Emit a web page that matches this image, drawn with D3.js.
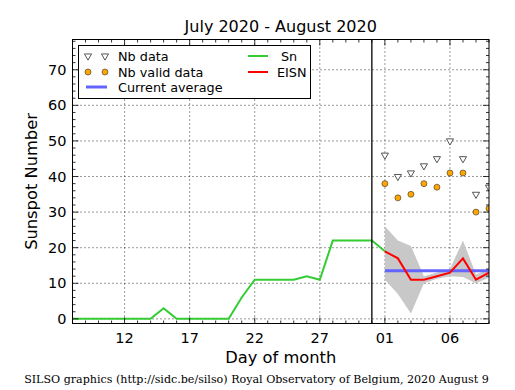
<!DOCTYPE html>
<html><head><meta charset="utf-8">
<script src="https://cdn.jsdelivr.net/npm/d3@7"></script>
<style>body{margin:0;background:#fff}svg{display:block}</style>
</head><body>
<svg id="c" width="515" height="390"></svg>
<script>
// ---- data ----
const snDays = [8,9,10,11,12,13,14,15,16,17,18,19,20,21,22,23,24,25,26,27,28,29,30,31,32];
const snValues = [0,0,0,0,0,0,0,3,0,0,0,0,0,6,11,11,11,11,12,11,22,22,22,22,19];
const augDays = [32,33,34,35,36,37,38,39,40];
const eisnValues = [19,17,11,11,12,13,17,11,13];
const eisnUpper = [26,22,20.5,12,13,14,22,12.5,14];
const eisnLower = [11,7,1.5,10,11.3,12,11.8,10,11.6];
const nbData = [46,40,41,43,45,50,45,35,37];
const nbValid = [38,34,35,38,37,41,41,30,31];
const currentAverage = 13.5;
const avgRange = [32,40];
const monthBoundary = 31;
const xTickValues = [12,17,22,27,32,37];
const xTickLabels = ["12","17","22","27","01","06"];
const yTickValues = [0,10,20,30,40,50,60,70];

const svg = d3.select("#c");
const L=72.5, R=489, T=39.5, B=323.5;
const x = d3.scaleLinear().domain([8,40]).range([L,R]);
const y = d3.scaleLinear().domain([-1.3,78.5]).range([B,T]);
const font = "DejaVu Sans, sans-serif";

svg.append("defs").append("clipPath").attr("id","clip")
  .append("rect").attr("x",L).attr("y",T).attr("width",R-L).attr("height",B-T);

// grid
const grid = svg.append("g");
xTickValues.forEach(v=>grid.append("line").attr("x1",x(v)).attr("x2",x(v)).attr("y1",T).attr("y2",B));
yTickValues.forEach(v=>grid.append("line").attr("x1",L).attr("x2",R).attr("y1",y(v)).attr("y2",y(v)));
grid.selectAll("line").attr("stroke","#000").attr("stroke-width",0.8).attr("stroke-dasharray","1,3");

const plot = svg.append("g").attr("clip-path","url(#clip)");
// band
const band = augDays.map((d,i)=>({d,u:eisnUpper[i],l:eisnLower[i]}));
plot.append("path").datum(band)
  .attr("d",d3.area().x(p=>x(p.d)).y0(p=>y(p.l)).y1(p=>y(p.u)))
  .attr("fill","#c8c8c8").attr("stroke","none");
// Sn
plot.append("path").datum(snDays.map((d,i)=>[d,snValues[i]]))
  .attr("d",d3.line().x(p=>x(p[0])).y(p=>y(p[1])))
  .attr("fill","none").attr("stroke","#33cc33").attr("stroke-width",2);
// current average
plot.append("line").attr("x1",x(avgRange[0])).attr("x2",x(avgRange[1]))
  .attr("y1",y(currentAverage)).attr("y2",y(currentAverage))
  .attr("stroke","#6464ff").attr("stroke-width",3);
// EISN
plot.append("path").datum(augDays.map((d,i)=>[d,eisnValues[i]]))
  .attr("d",d3.line().x(p=>x(p[0])).y(p=>y(p[1])))
  .attr("fill","none").attr("stroke","#ff0000").attr("stroke-width",2);
// markers
const tri = d3.symbol().type(d3.symbolTriangle).size(22);
augDays.forEach((d,i)=>{
  plot.append("path").attr("d",tri()).attr("transform",`translate(${x(d)},${y(nbData[i])}) rotate(180)`)
    .attr("fill","#fff").attr("stroke","#555").attr("stroke-width",1);
  plot.append("circle").attr("cx",x(d)).attr("cy",y(nbValid[i])).attr("r",3)
    .attr("fill","#ffa500").attr("stroke","#333").attr("stroke-width",0.6);
});
// month boundary
svg.append("line").attr("x1",x(monthBoundary)).attr("x2",x(monthBoundary)).attr("y1",T).attr("y2",B)
  .attr("stroke","#000").attr("stroke-width",1.3);

// ticks
const tk = svg.append("g").attr("stroke","#000").attr("stroke-width",0.8);
d3.range(8,41).forEach(v=>{
  const major = xTickValues.includes(v), len = major?6:3;
  tk.append("line").attr("x1",x(v)).attr("x2",x(v)).attr("y1",B).attr("y2",B-len);
  tk.append("line").attr("x1",x(v)).attr("x2",x(v)).attr("y1",T).attr("y2",T+len);
});
d3.range(0,79,2).forEach(v=>{
  const major = v%10===0, len = major?6:3;
  tk.append("line").attr("y1",y(v)).attr("y2",y(v)).attr("x1",L).attr("x2",L+len);
  tk.append("line").attr("y1",y(v)).attr("y2",y(v)).attr("x1",R).attr("x2",R-len);
});
// spines
svg.append("rect").attr("x",L).attr("y",T).attr("width",R-L).attr("height",B-T)
  .attr("fill","none").attr("stroke","#000").attr("stroke-width",1);

// tick labels
xTickValues.forEach((v,i)=>svg.append("text").attr("x",x(v)).attr("y",B+19).attr("text-anchor","middle")
  .attr("font-family",font).attr("font-size",14.5).text(xTickLabels[i]));
yTickValues.forEach(v=>svg.append("text").attr("x",L-6).attr("y",y(v)+5).attr("text-anchor","end")
  .attr("font-family",font).attr("font-size",14.5).text(v));

// titles
svg.append("text").attr("x",(L+R)/2).attr("y",32).attr("text-anchor","middle")
  .attr("font-family",font).attr("font-size",16).text("July 2020 - August 2020");
svg.append("text").attr("x",(L+R)/2).attr("y",363).attr("text-anchor","middle")
  .attr("font-family",font).attr("font-size",16.3).text("Day of month");
svg.append("text").attr("transform",`translate(37,${(T+B)/2}) rotate(-90)`).attr("text-anchor","middle")
  .attr("font-family",font).attr("font-size",16.3).text("Sunspot Number");
svg.append("text").attr("x",256.5).attr("y",383).attr("text-anchor","middle")
  .attr("font-family","DejaVu Serif, serif").attr("font-size",11.1)
  .text("SILSO graphics (http://sidc.be/silso) Royal Observatory of Belgium, 2020 August 9");

// legend
const lg = svg.append("g");
lg.append("rect").attr("x",78.5).attr("y",45.5).attr("width",232).attr("height",53)
  .attr("fill","#fff").attr("stroke","#000").attr("stroke-width",1);
const lf = 12.8;
[88,105].forEach(px=>{
  lg.append("path").attr("d",tri()).attr("transform",`translate(${px},56) rotate(180)`)
    .attr("fill","#fff").attr("stroke","#555").attr("stroke-width",1);
  lg.append("circle").attr("cx",px).attr("cy",72).attr("r",3)
    .attr("fill","#ffa500").attr("stroke","#333").attr("stroke-width",0.6);
});
lg.append("line").attr("x1",86).attr("x2",107).attr("y1",87).attr("y2",87).attr("stroke","#6464ff").attr("stroke-width",3);
lg.append("line").attr("x1",248).attr("x2",268).attr("y1",56).attr("y2",56).attr("stroke","#33cc33").attr("stroke-width",2);
lg.append("line").attr("x1",248).attr("x2",268).attr("y1",72).attr("y2",72).attr("stroke","#ff0000").attr("stroke-width",2);
[["Nb data",118,61],["Nb valid data",118,77],["Current average",118,92],["Sn",281,61],["EISN",277,77]]
  .forEach(([t,tx,ty])=>lg.append("text").attr("x",tx).attr("y",ty).attr("font-family",font).attr("font-size",lf).text(t));
</script>
</body></html>
